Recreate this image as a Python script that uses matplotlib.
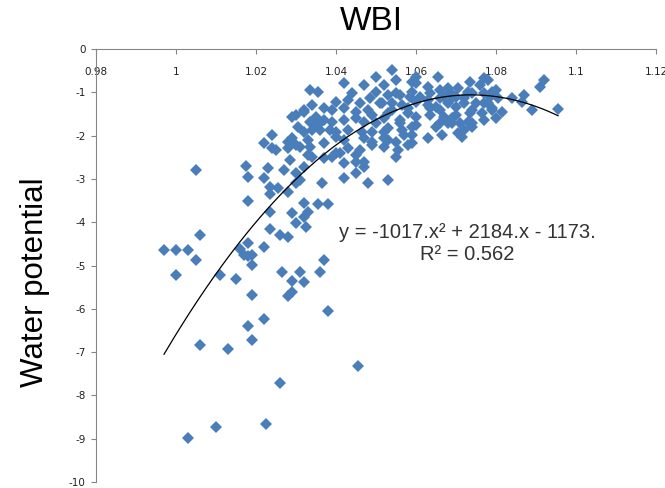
import matplotlib
matplotlib.use("Agg")
import matplotlib.pyplot as plt
import numpy as np

plt.rcParams["axes.unicode_minus"] = False

# sparse lower-left points
wbi_low = [0.997, 1.000, 1.003, 1.005, 1.000, 1.006, 1.011, 1.015, 1.018, 1.016,
           1.017, 1.018, 1.019, 1.022, 1.019, 1.019, 1.022, 1.018, 1.019, 1.006,
           1.013, 1.0265, 1.031, 1.029, 1.032, 1.028, 1.029, 1.036, 1.037, 1.038,
           1.0455, 1.026, 1.0225, 1.010, 1.003, 1.005]
wp_low = [-4.65, -4.65, -4.65, -4.88, -5.22, -4.29, -5.21, -5.32, -4.48, -4.63,
          -4.75, -4.79, -4.75, -4.57, -4.98, -5.67, -6.23, -6.40, -6.71, -6.84,
          -6.92, -5.14, -5.16, -5.35, -5.39, -5.71, -5.62, -5.14, -4.88, -6.04,
          -7.33, -7.72, -8.66, -8.73, -8.99, -2.79]

# rising band, WBI 1.017 - 1.041
wbi_mid = [1.0175, 1.018, 1.018, 1.022, 1.024, 1.025, 1.023, 1.022, 1.0235, 1.0255,
           1.028, 1.0235, 1.027, 1.0285, 1.030, 1.032, 1.029, 1.030, 1.028, 1.0305,
           1.033, 1.0335, 1.029, 1.032, 1.034, 1.0335, 1.0355, 1.035, 1.037, 1.036,
           1.0385, 1.040, 1.037, 1.034, 1.037, 1.039, 1.041, 1.0365, 1.032, 1.033,
           1.0355, 1.038, 1.032, 1.029, 1.030, 1.026, 1.028, 1.0325, 1.0235, 1.030,
           1.032, 1.037, 1.0335, 1.0355, 1.024, 1.032, 1.034, 1.028, 1.031, 1.033,
           1.031, 1.030, 1.0235]
wp_mid = [-2.70, -2.95, -3.50, -2.17, -1.98, -2.33, -2.74, -2.97, -3.18, -3.20,
          -3.30, -3.76, -2.79, -2.56, -2.86, -2.72, -2.05, -2.21, -2.14, -1.80,
          -2.10, -2.26, -1.57, -1.45, -1.29, -0.94, -0.99, -1.57, -1.64, -1.87,
          -1.87, -2.03, -2.17, -2.49, -2.51, -2.49, -2.40, -3.09, -3.55, -3.76,
          -3.59, -3.57, -3.89, -3.78, -4.01, -4.29, -4.35, -4.12, -4.15, -1.52,
          -1.41, -1.36, -1.68, -1.75, -2.28, -1.91, -1.87, -2.28, -2.26, -2.44,
          -3.02, -3.09, -3.36]

# dense core, WBI 1.039 - 1.070
wbi_core = [1.054, 1.050, 1.055, 1.052, 1.042, 1.047, 1.060, 1.0655, 1.060, 1.063,
            1.050, 1.053, 1.055, 1.044, 1.040, 1.043, 1.046, 1.0485, 1.051, 1.0565,
            1.0585, 1.061, 1.0635, 1.066, 1.0685, 1.070, 1.039, 1.042, 1.045, 1.048,
            1.049, 1.053, 1.054, 1.058, 1.060, 1.063, 1.065, 1.068, 1.070, 1.039,
            1.042, 1.045, 1.047, 1.050, 1.052, 1.056, 1.060, 1.0635, 1.067, 1.069,
            1.040, 1.043, 1.0465, 1.049, 1.053, 1.0565, 1.059, 1.065, 1.068, 1.042,
            1.047, 1.049, 1.052, 1.055, 1.057, 1.063, 1.043, 1.046, 1.049, 1.052,
            1.0555, 1.058, 1.040, 1.045, 1.055, 1.042, 1.045, 1.047, 1.047, 1.045,
            1.042, 1.048, 1.053, 1.059, 1.056, 1.059, 1.066, 1.068, 1.063, 1.067,
            1.069, 1.0515, 1.054, 1.058, 1.0635, 1.066, 1.070, 1.056, 1.060, 1.066,
            1.069, 1.052, 1.059, 1.0665, 1.053, 1.059]
wp_core = [-0.48, -0.65, -0.71, -0.83, -0.78, -0.83, -0.65, -0.65, -0.78, -0.88,
           -0.99, -1.06, -1.01, -1.01, -1.22, -1.18, -1.24, -1.13, -1.24, -1.29,
           -1.11, -1.11, -1.01, -1.13, -0.99, -1.11, -1.41, -1.36, -1.45, -1.41,
           -1.52, -1.47, -1.41, -1.47, -1.22, -1.29, -1.34, -1.24, -1.34, -1.68,
           -1.64, -1.59, -1.68, -1.71, -1.59, -1.64, -1.57, -1.52, -1.57, -1.59,
           -1.91, -1.87, -1.91, -1.91, -1.82, -1.87, -1.80, -1.80, -1.71, -2.10,
           -2.05, -2.14, -2.05, -2.14, -1.98, -2.05, -2.28, -2.33, -2.21, -2.26,
           -2.33, -2.21, -2.40, -2.44, -2.49, -2.63, -2.60, -2.60, -2.72, -2.86,
           -2.97, -3.09, -3.02, -0.76, -1.06, -0.99, -0.94, -0.90, -1.18, -1.11,
           -1.13, -1.24, -1.24, -1.36, -1.36, -1.41, -1.52, -1.71, -1.75, -1.71,
           -1.71, -1.91, -1.98, -1.98, -2.10, -2.17]

# right shoulder, WBI above 1.070
wbi_right = [1.0705, 1.0735, 1.076, 1.078, 1.080, 1.077, 1.073, 1.072, 1.074, 1.0785,
             1.0805, 1.084, 1.087, 1.0865, 1.092, 1.091, 1.089, 1.0955, 1.072, 1.075,
             1.078, 1.079, 1.0815, 1.0735, 1.0765, 1.080, 1.071, 1.074, 1.0705, 1.077,
             1.079, 1.077, 1.074, 1.079, 1.073, 1.077, 1.072, 1.074, 1.0715]
wp_right = [-0.90, -0.76, -0.83, -0.71, -0.94, -1.01, -0.99, -1.13, -1.01, -1.11,
            -1.13, -1.13, -1.06, -1.22, -0.71, -0.88, -1.41, -1.38, -1.24, -1.24,
            -1.24, -1.36, -1.45, -1.47, -1.47, -1.59, -1.71, -1.71, -1.94, -0.67,
            -0.99, -1.24, -1.41, -1.41, -1.68, -1.64, -1.87, -1.80, -2.03]

# 2nd order trendline (constant unrounded from the label's -1173)
trend_coef = [-1017.0, 2184.0, -1173.59]

x_ticks = [0.98, 1.0, 1.02, 1.04, 1.06, 1.08, 1.1, 1.12]
y_ticks = list(range(-10, 1))

equation = "y = -1017.x\u00b2 + 2184.x - 1173.\nR\u00b2 = 0.562"

wbi = np.concatenate([wbi_low, wbi_mid, wbi_core, wbi_right])
wp = np.concatenate([wp_low, wp_mid, wp_core, wp_right])

xs = np.linspace(wbi.min(), wbi.max(), 200)
ys = np.polyval(trend_coef, xs)

fig = plt.figure(figsize=(6.65, 4.88), dpi=100)
ax = fig.add_axes([0.1444, 1 - 482 / 488, 0.8421, 433 / 488])

ax.plot(wbi, wp, linestyle="none", marker="D", ms=6, mew=0, color="#4A7EBB")
ax.plot(xs, ys, color="black", lw=0.9)

ax.set_xlim(0.98, 1.12)
ax.set_ylim(-10, 0)
ax.set_xticks(x_ticks)
ax.set_xticklabels([f"{v:g}" for v in x_ticks])
ax.set_yticks(y_ticks)
ax.set_yticklabels([f"{v:g}" for v in y_ticks])

for side in ["right", "bottom"]:
    ax.spines[side].set_visible(False)
for side in ["left", "top"]:
    ax.spines[side].set_color("#868686")
    ax.spines[side].set_linewidth(0.8)

ax.tick_params(axis="x", top=True, bottom=False, labeltop=True, labelbottom=False,
               direction="in", length=3.6, color="#868686", pad=-20,
               labelsize=7.5, labelcolor="#222222")
ax.tick_params(axis="y", direction="out", length=3.6, color="#868686", pad=4,
               labelsize=7.5, labelcolor="#222222")

fig.text(0.558, 1 - 21 / 488, "WBI", ha="center", va="center",
         fontsize=24, family="Liberation Sans")
fig.text(35 / 665, 1 - 282 / 488, "Water potential", ha="center", va="center",
         rotation=90, fontsize=22.5, family="Liberation Sans")
ax.text(1.0728, -4.50, equation, ha="center", va="center", multialignment="center",
        fontsize=14.5, family="Liberation Sans", color="#333333", linespacing=1.2)

fig.savefig("out.png", dpi=100)
